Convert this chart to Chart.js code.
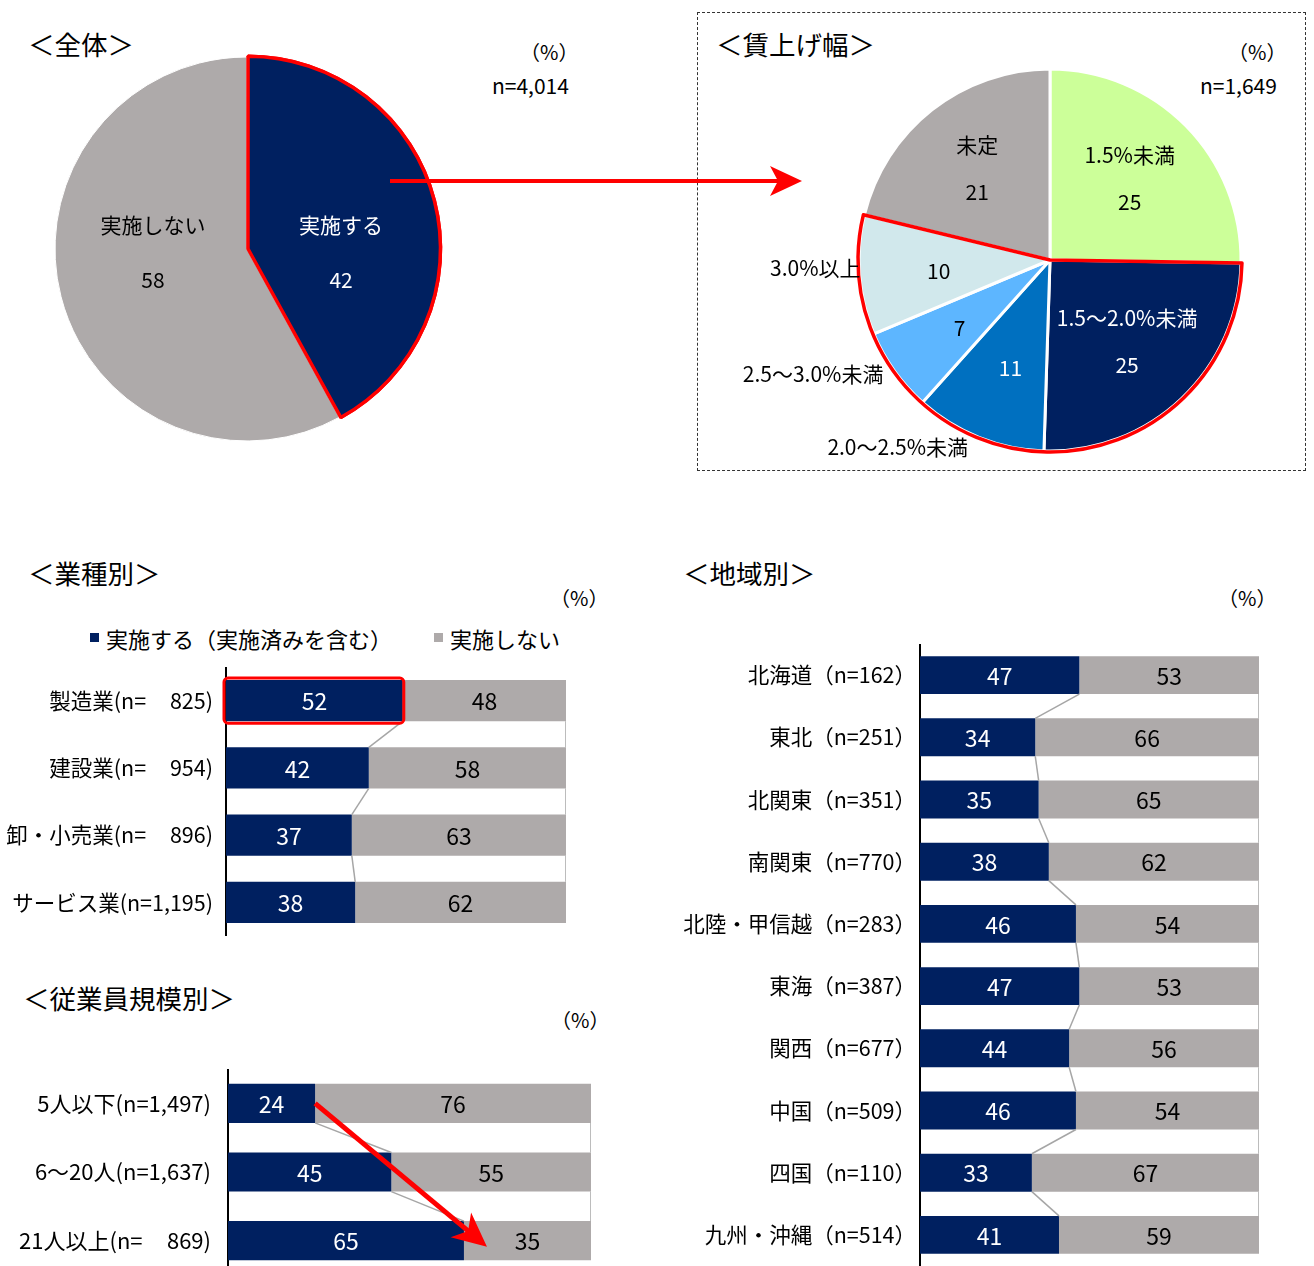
<!DOCTYPE html>
<html>
<head>
<meta charset="utf-8">
<script src="https://cdn.jsdelivr.net/npm/chart.js@4/dist/chart.umd.min.js"></script>
<style>
  body { margin:0; width:1314px; height:1266px; position:relative; overflow:hidden; background:#fff;
         font-family:"Noto Sans CJK JP","Noto Sans",sans-serif; color:#000; }
  .t { position:absolute; white-space:nowrap; line-height:1; }
  .title { font-size:26.5px; }
  .unit { font-size:20px; }
  .n { font-size:21px; }
  .leg { font-size:22px; }
  .sq { position:absolute; width:9px; height:9px; }
  canvas { position:absolute; }
  #box { position:absolute; left:697px; top:12px; width:607px; height:457px; border:1px dashed #333; }
</style>
</head>
<body>
<div id="box"></div>

<div class="t title" style="left:28px;top:31px">＜全体＞</div>
<div class="t unit" style="left:520px;top:42px">（%）</div>
<div class="t n" style="left:492px;top:75px">n=4,014</div>

<div class="t title" style="left:716px;top:31px">＜賃上げ幅＞</div>
<div class="t unit" style="left:1228px;top:42px">（%）</div>
<div class="t n" style="left:1200px;top:75px">n=1,649</div>

<div class="t title" style="left:28px;top:560px">＜業種別＞</div>
<div class="t unit" style="left:550px;top:588px">（%）</div>
<div id="legend"></div>

<div class="t title" style="left:23px;top:985px">＜従業員規模別＞</div>
<div class="t unit" style="left:551px;top:1010px">（%）</div>

<div class="t title" style="left:683px;top:560px">＜地域別＞</div>
<div class="t unit" style="left:1218px;top:588px">（%）</div>

<canvas id="pie1" width="420" height="420" style="left:37px;top:39px"></canvas>
<canvas id="pie2" width="700" height="420" style="left:700px;top:50px"></canvas>
<canvas id="industry" width="566" height="269" style="left:0px;top:667px"></canvas>
<canvas id="size" width="591" height="206" style="left:0px;top:1069px"></canvas>
<canvas id="region" width="599" height="622" style="left:660px;top:644px"></canvas>

<svg width="1314" height="1266" style="position:absolute;left:0;top:0;pointer-events:none">
  <line x1="390" y1="181" x2="780" y2="181" stroke="#FF0000" stroke-width="4"/>
  <polygon points="802,181 770,166 778,181 770,196" fill="#FF0000"/>
</svg>

<script>
// 全体
const totalLabels = ['実施する', '実施しない'];
const totalValues = [42, 58];

// 賃上げ幅
const rangeLabels = ['1.5%未満', '1.5～2.0%未満', '2.0～2.5%未満', '2.5～3.0%未満', '3.0%以上', '未定'];
const rangeValues = [25, 25, 11, 7, 10, 21];

// 凡例
const seriesNames = ['実施する（実施済みを含む）', '実施しない'];

// 業種別
const industryLabels = ['製造業(n=\u2007\u2007825)', '建設業(n=\u2007\u2007954)', '卸・小売業(n=\u2007\u2007896)', 'サービス業(n=1,195)'];
const industryYes = [52, 42, 37, 38];
const industryNo = [48, 58, 63, 62];

// 従業員規模別
const sizeLabels = ['5人以下(n=1,497)', '6～20人(n=1,637)', '21人以上(n=\u2007\u2007869)'];
const sizeYes = [24, 45, 65];
const sizeNo = [76, 55, 35];

// 地域別
const regionLabels = ['北海道（n=162）', '東北（n=251）', '北関東（n=351）', '南関東（n=770）', '北陸・甲信越（n=283）',
                      '東海（n=387）', '関西（n=677）', '中国（n=509）', '四国（n=110）', '九州・沖縄（n=514）'];
const regionYes = [47, 34, 35, 38, 46, 47, 44, 46, 33, 41];
const regionNo = [53, 66, 65, 62, 54, 53, 56, 54, 67, 59];

const NAVY = '#002060', GREY = '#AEAAAA', RED = '#FF0000';
const FONT = '"Noto Sans CJK JP", "Noto Sans", sans-serif';
Chart.defaults.font.family = FONT;
Chart.defaults.animation = false;

// legend (html text)
const legendColors = [NAVY, GREY];
const legendPos = [[90, 106], [434, 450]];
document.getElementById('legend').innerHTML = seriesNames.map((s, i) =>
  `<div class="sq" style="left:${legendPos[i][0]}px;top:633px;background:${legendColors[i]}"></div>` +
  `<div class="t leg" style="left:${legendPos[i][1]}px;top:627px">${s}</div>`).join('');

// --- 全体 pie ---
const pie1Plugin = {
  id: 'pie1Plugin',
  afterDatasetsDraw(chart) {
    const ctx = chart.ctx;
    const meta = chart.getDatasetMeta(0);
    meta.data[0].draw(ctx); // keep red outline on top
    ctx.save();
    ctx.font = '21px ' + FONT;
    ctx.textAlign = 'center';
    ctx.textBaseline = 'middle';
    meta.data.forEach((arc, i) => {
      const mid = (arc.startAngle + arc.endAngle) / 2;
      const x = arc.x + Math.sign(Math.cos(mid)) * arc.outerRadius * 0.49;
      ctx.fillStyle = i === 0 ? '#fff' : '#000';
      ctx.fillText(totalLabels[i], x, arc.y - 24);
      ctx.fillText(String(totalValues[i]), x, arc.y + 31);
    });
    ctx.restore();
  }
};

new Chart(document.getElementById('pie1'), {
  type: 'pie',
  data: {
    labels: totalLabels,
    datasets: [{
      data: totalValues,
      backgroundColor: [NAVY, GREY],
      borderColor: [RED, '#fff'],
      borderWidth: [3.5, 1],
      offset: [4, 0]
    }]
  },
  options: {
    responsive: false,
    radius: 192,
    plugins: { legend: { display: false }, tooltip: { enabled: false } }
  },
  plugins: [pie1Plugin]
});

// --- 賃上げ幅 pie ---
const rangeTextColors = ['#000', '#fff', '#fff', '#000', '#000', '#000'];
// small shifts for the names written outside the small slices
const outsideNudge = { 2: [-11, 10], 3: [-11, 3], 4: [1, -7] };
const pie2Plugin = {
  id: 'pie2Plugin',
  afterDatasetsDraw(chart) {
    const ctx = chart.ctx;
    const els = chart.getDatasetMeta(0).data;
    const a = els[1], b = els[4];
    ctx.save();
    ctx.strokeStyle = RED;
    ctx.lineWidth = 3.5;
    ctx.lineJoin = 'round';
    ctx.beginPath();
    ctx.moveTo(a.x, a.y);
    ctx.arc(a.x, a.y, a.outerRadius + 1, a.startAngle, b.endAngle);
    ctx.closePath();
    ctx.stroke();

    ctx.font = '21px ' + FONT;
    ctx.textBaseline = 'middle';
    els.forEach((arc, i) => {
      const mid = (arc.startAngle + arc.endAngle) / 2;
      const r = arc.outerRadius;
      const px = arc.x + Math.cos(mid) * r * 0.6;
      const py = arc.y + Math.sin(mid) * r * 0.6;
      ctx.fillStyle = rangeTextColors[i];
      ctx.textAlign = 'center';
      if (rangeValues[i] <= 11) {
        ctx.fillText(String(rangeValues[i]), px + 3, py + 2);
        const nd = outsideNudge[i] || [0, 0];
        ctx.fillStyle = '#000';
        ctx.textAlign = 'right';
        ctx.fillText(rangeLabels[i], arc.x + Math.cos(mid) * r + nd[0], arc.y + Math.sin(mid) * r + nd[1]);
      } else {
        ctx.fillText(rangeLabels[i], px - 2, py - 25);
        ctx.fillText(String(rangeValues[i]), px - 2, py + 22);
      }
    });
    ctx.restore();
  }
};

new Chart(document.getElementById('pie2'), {
  type: 'pie',
  data: {
    labels: rangeLabels,
    datasets: [{
      data: rangeValues,
      backgroundColor: ['#CCFF99', NAVY, '#0070C0', '#5DB6FF', '#D1E8EC', GREY],
      borderColor: '#fff',
      borderWidth: 3
    }]
  },
  options: {
    responsive: false,
    radius: 191,
    plugins: { legend: { display: false }, tooltip: { enabled: false } }
  },
  plugins: [pie2Plugin]
});

// --- stacked bars ---
const barLabels = {
  id: 'barLabels',
  afterDatasetsDraw(chart) {
    const ctx = chart.ctx;
    ctx.save();
    ctx.font = '23px ' + FONT;
    ctx.textAlign = 'center';
    ctx.textBaseline = 'middle';
    chart.data.datasets.forEach((ds, d) => {
      ctx.fillStyle = d === 0 ? '#fff' : '#000';
      chart.getDatasetMeta(d).data.forEach((el, i) => {
        ctx.fillText(String(ds.data[i]), (el.x + el.base) / 2, el.y + 1);
      });
    });
    ctx.restore();
  }
};

const seriesLines = {
  id: 'seriesLines',
  afterDatasetsDraw(chart) {
    const ctx = chart.ctx;
    ctx.save();
    ctx.strokeStyle = '#A6A6A6';
    ctx.lineWidth = 1.5;
    [0, 1].forEach(d => {
      const els = chart.getDatasetMeta(d).data;
      for (let i = 0; i < els.length - 1; i++) {
        const a = els[i], b = els[i + 1];
        ctx.beginPath();
        ctx.moveTo(a.x, a.y + a.height / 2);
        ctx.lineTo(b.x, b.y - b.height / 2);
        ctx.stroke();
      }
    });
    ctx.restore();
  }
};

// red frame round the first navy bar
const highlightBar = {
  id: 'highlightBar',
  afterDatasetsDraw(chart) {
    const el = chart.getDatasetMeta(0).data[0];
    const ctx = chart.ctx;
    ctx.save();
    ctx.strokeStyle = RED;
    ctx.lineWidth = 3;
    ctx.beginPath();
    ctx.roundRect(el.base - 2, el.y - el.height / 2 - 2, el.x - el.base + 3, el.height + 4, 4);
    ctx.stroke();
    ctx.restore();
  }
};

// red arrow going down over the navy bars
const trendArrow = {
  id: 'trendArrow',
  afterDatasetsDraw(chart) {
    const els = chart.getDatasetMeta(0).data;
    const s = els[0], e = els[els.length - 1];
    const x1 = s.x, y1 = s.y, x2 = e.x + 23, y2 = e.y + 6;
    const ang = Math.atan2(y2 - y1, x2 - x1);
    const L = 34, W = 16;
    const cos = Math.cos(ang), sin = Math.sin(ang);
    const ctx = chart.ctx;
    ctx.save();
    ctx.strokeStyle = RED;
    ctx.fillStyle = RED;
    ctx.lineWidth = 5;
    ctx.beginPath();
    ctx.moveTo(x1, y1);
    ctx.lineTo(x2 - cos * L * 0.7, y2 - sin * L * 0.7);
    ctx.stroke();
    ctx.beginPath();
    ctx.moveTo(x2, y2);
    ctx.lineTo(x2 - cos * L - sin * W, y2 - sin * L + cos * W);
    ctx.lineTo(x2 - cos * L * 0.72, y2 - sin * L * 0.72);
    ctx.lineTo(x2 - cos * L + sin * W, y2 - sin * L - cos * W);
    ctx.closePath();
    ctx.fill();
    ctx.restore();
  }
};

function stackedBar(id, labels, yes, no, axisWidth, pct, tickPad, tickSize, extra) {
  return new Chart(document.getElementById(id), {
    type: 'bar',
    data: {
      labels: labels,
      datasets: [
        { label: seriesNames[0], data: yes, backgroundColor: NAVY, barPercentage: pct, categoryPercentage: 1 },
        { label: seriesNames[1], data: no, backgroundColor: GREY, barPercentage: pct, categoryPercentage: 1 }
      ]
    },
    options: {
      indexAxis: 'y',
      responsive: false,
      layout: { padding: 0 },
      plugins: { legend: { display: false }, tooltip: { enabled: false } },
      scales: {
        x: { stacked: true, min: 0, max: 100, display: false },
        y: {
          stacked: true,
          grid: { display: false, drawTicks: false },
          border: { color: '#000', width: 2 },
          ticks: { color: '#000', font: { size: tickSize }, padding: tickPad },
          afterFit(scale) {
            scale.width = axisWidth;
            scale.paddingTop = 0;
            scale.paddingBottom = 0;
          }
        }
      }
    },
    plugins: [seriesLines, barLabels].concat(extra)
  });
}

stackedBar('industry', industryLabels, industryYes, industryNo, 226, 0.61, 13, 21.5, [highlightBar]);
stackedBar('size', sizeLabels, sizeYes, sizeNo, 228, 0.57, 17, 22, [trendArrow]);
stackedBar('region', regionLabels, regionYes, regionNo, 260, 0.61, 4, 21.5, []);
</script>
</body>
</html>
